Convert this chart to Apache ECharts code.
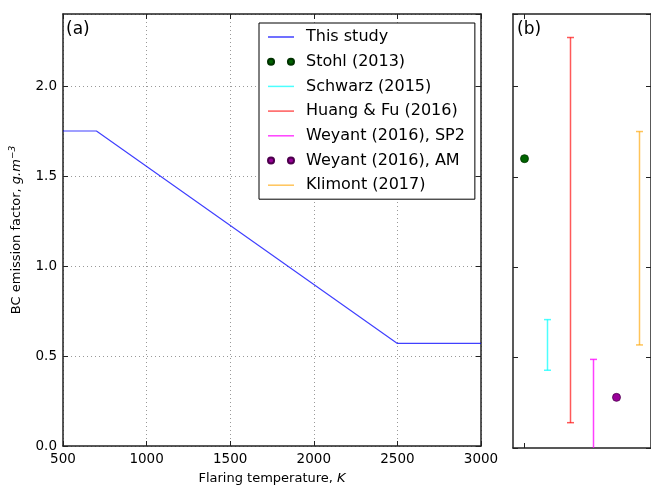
<!DOCTYPE html>
<html><head><meta charset="utf-8">
<script src="https://cdn.jsdelivr.net/npm/echarts@6/dist/echarts.min.js"></script>
<style>html,body{margin:0;padding:0;background:#fff}#c{width:651px;height:490px}</style>
</head><body><div id="c"></div>
<script>
// ---- data ----
const tempK = [500, 700, 2500, 3000];
const efThisStudy = [1.75, 1.75, 0.57, 0.57];
const studies = ['Stohl (2013)', 'Schwarz (2015)', 'Huang & Fu (2016)', 'Weyant (2016), SP2', 'Weyant (2016), AM', 'Klimont (2017)'];
const stohlValue = 1.6;
const weyantAmValue = 0.28;
const schwarzRange = [0.43, 0.71];
const huangRange = [0.14, 2.27];
const weyantSp2Range = [-0.05, 0.49];
const klimontRange = [0.57, 1.75];

const FONT = 'DejaVu Sans';
const AX = '#222';
const lineIcon = 'path://M0,0H26V1.5H0Z';
const dotsIcon = 'path://M0,3.5A3.5,3.5,0,1,1,7,3.5A3.5,3.5,0,1,1,0,3.5ZM23,3.5A3.5,3.5,0,1,1,30,3.5A3.5,3.5,0,1,1,23,3.5Z';

function errRender(params, api) {
  const x = api.value(0), lo = api.value(1), hi = api.value(2);
  const p1 = api.coord([x, lo]), p2 = api.coord([x, hi]);
  const hw = 3.5;
  const style = { stroke: api.visual('color'), lineWidth: 1.5 };
  return { type: 'group', children: [
    { type: 'line', shape: { x1: p1[0], y1: p1[1], x2: p2[0], y2: p2[1] }, style },
    { type: 'line', shape: { x1: p1[0] - hw, y1: p1[1], x2: p1[0] + hw, y2: p1[1] }, style },
    { type: 'line', shape: { x1: p2[0] - hw, y1: p2[1], x2: p2[0] + hw, y2: p2[1] }, style }
  ]};
}
function errSeries(name, idx, range, color) {
  return { name, type: 'custom', xAxisIndex: 2, yAxisIndex: 2, clip: true,
    itemStyle: { color }, renderItem: errRender,
    encode: { x: 0, y: [1, 2] },
    data: [[idx, range[0], range[1]]] };
}

const tickCommon = { show: true, inside: true, length: 5, lineStyle: { color: AX, width: 1 } };
const lineCommon = { show: true, onZero: false, lineStyle: { color: AX, width: 1.5 } };

const chart = echarts.init(document.getElementById('c'), null, { renderer: 'canvas' });
chart.setOption({
  backgroundColor: '#fff',
  animation: false,
  textStyle: { fontFamily: FONT },
  grid: [
    { left: 62, top: 14, width: 419, height: 434 },
    { left: 513, top: 14, width: 140, height: 434 }
  ],
  xAxis: [
    { gridIndex: 0, type: 'value', min: 500, max: 3000, interval: 500, position: 'bottom',
      axisLine: lineCommon, axisTick: tickCommon,
      axisLabel: { color: '#000', fontSize: 13.5, fontFamily: FONT, margin: 6, formatter: v => String(v) },
      splitLine: { show: true, lineStyle: { color: '#999', type: [1, 3], width: 1 } },
      name: 'Flaring temperature, {i|K}', nameLocation: 'middle', nameGap: 26,
      nameTextStyle: { color: '#000', fontSize: 13, fontFamily: FONT,
        rich: { i: { fontStyle: 'italic', fontSize: 13, fontFamily: FONT, color: '#000' } } } },
    { gridIndex: 0, type: 'value', min: 500, max: 3000, interval: 500, position: 'top',
      axisLine: lineCommon, axisTick: tickCommon, axisLabel: { show: false }, splitLine: { show: false } },
    { gridIndex: 1, type: 'category', data: studies, position: 'bottom', boundaryGap: true,
      axisLine: lineCommon, axisTick: Object.assign({ alignWithLabel: true }, tickCommon),
      axisLabel: { show: false }, splitLine: { show: false } },
    { gridIndex: 1, type: 'category', data: studies, position: 'top', boundaryGap: true,
      axisLine: lineCommon, axisTick: Object.assign({ alignWithLabel: true }, tickCommon),
      axisLabel: { show: false }, splitLine: { show: false } }
  ],
  yAxis: [
    { gridIndex: 0, type: 'value', min: 0, max: 2.4, interval: 0.5, position: 'left',
      axisLine: lineCommon, axisTick: tickCommon,
      axisLabel: { color: '#000', fontSize: 13.5, fontFamily: FONT, margin: 6, showMaxLabel: false,
        formatter: v => v.toFixed(1) },
      splitLine: { show: true, lineStyle: { color: '#999', type: [1, 3], width: 1 } },
      name: 'BC emission factor, {i|g.m}{s|−3}', nameLocation: 'middle', nameGap: 37, nameRotate: 90,
      nameTextStyle: { color: '#000', fontSize: 13, fontFamily: FONT,
        rich: { i: { fontStyle: 'italic', fontSize: 13, fontFamily: FONT, color: '#000' },
                s: { fontStyle: 'italic', fontSize: 9, fontFamily: FONT, color: '#000', padding: [0, 0, 9, 0] } } } },
    { gridIndex: 0, type: 'value', min: 0, max: 2.4, interval: 0.5, position: 'right',
      axisLine: lineCommon, axisTick: tickCommon, axisLabel: { show: false }, splitLine: { show: false } },
    { gridIndex: 1, type: 'value', min: 0, max: 2.4, interval: 0.5, position: 'left',
      axisLine: lineCommon, axisTick: tickCommon, axisLabel: { show: false }, splitLine: { show: false } },
    { gridIndex: 1, type: 'value', min: 0, max: 2.4, interval: 0.5, position: 'right',
      axisLine: lineCommon, axisTick: tickCommon, axisLabel: { show: false }, splitLine: { show: false } }
  ],
  legend: {
    orient: 'vertical', left: 259, top: 23, padding: [6, 10, 6, 8],
    itemWidth: 26, itemHeight: 8, itemGap: 8.7,
    borderColor: '#000', borderWidth: 1, backgroundColor: '#fff',
    textStyle: { fontSize: 16, fontFamily: FONT, color: '#000', lineHeight: 16, padding: [0, 0, 0, 7] },
    data: [
      { name: 'This study', icon: lineIcon },
      { name: 'Stohl (2013)', icon: dotsIcon },
      { name: 'Schwarz (2015)', icon: lineIcon },
      { name: 'Huang & Fu (2016)', icon: lineIcon },
      { name: 'Weyant (2016), SP2', icon: lineIcon },
      { name: 'Weyant (2016), AM', icon: dotsIcon },
      { name: 'Klimont (2017)', icon: lineIcon }
    ]
  },
  graphic: [
    { type: 'text', left: 66, top: 21, style: { text: '(a)', font: '17px "DejaVu Sans"', fill: '#000' } },
    { type: 'text', left: 517, top: 21, style: { text: '(b)', font: '17px "DejaVu Sans"', fill: '#000' } }
  ],
  series: [
    { name: 'This study', type: 'line', xAxisIndex: 0, yAxisIndex: 0, symbol: 'none',
      itemStyle: { color: 'rgba(0,0,255,0.75)' },
      lineStyle: { color: 'rgba(0,0,255,0.75)', width: 1.2 },
      data: tempK.map((t, i) => [t, efThisStudy[i]]) },
    { name: 'Stohl (2013)', type: 'scatter', xAxisIndex: 2, yAxisIndex: 2, symbolSize: 8,
      itemStyle: { color: '#006400', borderColor: '#003300', borderWidth: 0.8, opacity: 1 },
      data: [[0, stohlValue]] },
    errSeries('Schwarz (2015)', 1, schwarzRange, 'rgba(0,255,255,0.7)'),
    errSeries('Huang & Fu (2016)', 2, huangRange, 'rgba(255,0,0,0.65)'),
    errSeries('Weyant (2016), SP2', 3, weyantSp2Range, 'rgba(255,0,255,0.75)'),
    { name: 'Weyant (2016), AM', type: 'scatter', xAxisIndex: 2, yAxisIndex: 2, symbolSize: 8,
      itemStyle: { color: '#990099', borderColor: '#4d004d', borderWidth: 0.8, opacity: 1 },
      data: [[4, weyantAmValue]] },
    errSeries('Klimont (2017)', 5, klimontRange, 'rgba(255,165,0,0.65)')
  ]
});
</script>
</body></html>
